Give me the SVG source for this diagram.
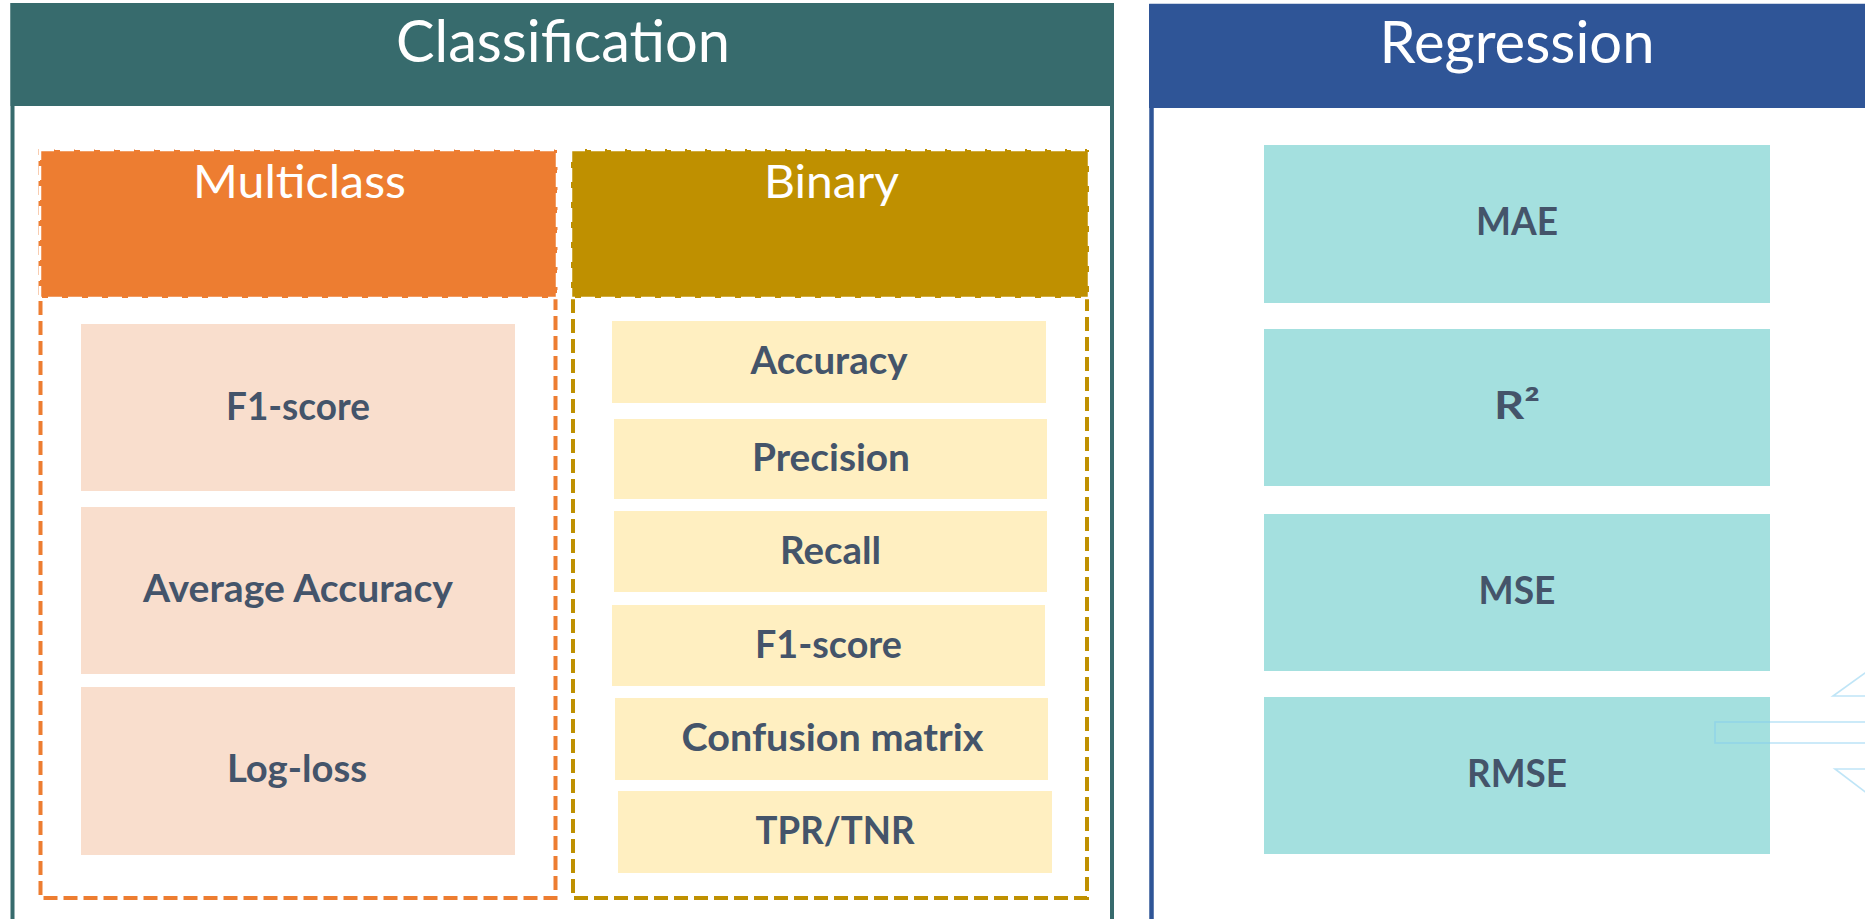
<svg xmlns="http://www.w3.org/2000/svg" width="1865" height="919" viewBox="0 0 1865 919">
<style>
.title{font-family:Lato,"Open Sans","Liberation Sans",sans-serif;fill:#FFFFFF;text-anchor:middle}
.lbl{font-family:Lato,"Open Sans","Liberation Sans",sans-serif;font-weight:bold;font-size:38px;fill:#44546A;text-anchor:middle}
.mbox{fill:#F9DECD}
.bbox{fill:#FFEFC1}
.rbox{fill:#A4E0DF}
.hdrline{stroke:#FFFFFF;stroke-width:2.5;stroke-dasharray:14 6}
.dash{fill:none;stroke-width:4;stroke-dasharray:14 6}
.arrow{fill:none;stroke:#7FCBF0;stroke-opacity:0.5;stroke-width:1.6}
</style>
<rect x="0" y="0" width="1865" height="919" fill="#FFFFFF"/>
<g id="classification">
  <rect x="12.5" y="5" width="1099.5" height="930" fill="#FFFFFF" stroke="#376B6D" stroke-width="4"/>
  <rect x="10.5" y="3" width="1103.5" height="103" fill="#376B6D"/>
  <text class="title" x="563" y="62" font-size="58" textLength="334" lengthAdjust="spacingAndGlyphs">Classification</text>
</g>
<g id="multiclass">
  <rect class="dash" x="40.5" y="151" width="515" height="747" stroke="#ED7D31"/>
  <rect x="40" y="150" width="517" height="148" fill="#ED7D31" class="hdrline"/>
  <text class="title" x="299.5" y="198" font-size="46" textLength="213" lengthAdjust="spacingAndGlyphs">Multiclass</text>
</g>
<g id="binary">
  <rect class="dash" x="573" y="151" width="514" height="747" stroke="#BF9000"/>
  <rect x="571" y="150" width="518" height="148" fill="#BF9000" class="hdrline"/>
  <text class="title" x="831.5" y="198" font-size="46" textLength="135" lengthAdjust="spacingAndGlyphs">Binary</text>
</g>
<g id="regression">
  <rect x="1151.5" y="6" width="760" height="930" fill="#FFFFFF" stroke="#2F5597" stroke-width="4.5"/>
  <rect x="1149" y="4" width="730" height="104" fill="#2F5597"/>
  <text class="title" x="1517" y="63" font-size="58" textLength="275" lengthAdjust="spacingAndGlyphs">Regression</text>
</g>
<g id="m-f1">
  <rect class="mbox" x="81" y="324" width="434" height="167"/>
  <text class="lbl" x="298" y="420" textLength="144" lengthAdjust="spacingAndGlyphs">F1-score</text>
</g>
<g id="m-avgacc">
  <rect class="mbox" x="81" y="507" width="434" height="167"/>
  <text class="lbl" x="298" y="602" textLength="310" lengthAdjust="spacingAndGlyphs">Average Accuracy</text>
</g>
<g id="m-logloss">
  <rect class="mbox" x="81" y="687" width="434" height="168"/>
  <text class="lbl" x="297" y="782" textLength="140" lengthAdjust="spacingAndGlyphs">Log-loss</text>
</g>
<g id="b-accuracy">
  <rect class="bbox" x="612" y="321" width="434" height="82"/>
  <text class="lbl" x="829" y="374" textLength="157" lengthAdjust="spacingAndGlyphs">Accuracy</text>
</g>
<g id="b-precision">
  <rect class="bbox" x="614" y="419" width="433" height="80"/>
  <text class="lbl" x="831" y="470.5" textLength="158" lengthAdjust="spacingAndGlyphs">Precision</text>
</g>
<g id="b-recall">
  <rect class="bbox" x="614" y="511" width="433" height="81"/>
  <text class="lbl" x="830.5" y="563.5" textLength="101" lengthAdjust="spacingAndGlyphs">Recall</text>
</g>
<g id="b-f1">
  <rect class="bbox" x="612" y="605" width="433" height="81"/>
  <text class="lbl" x="828.5" y="657.5" textLength="147" lengthAdjust="spacingAndGlyphs">F1-score</text>
</g>
<g id="b-confusion">
  <rect class="bbox" x="615" y="698" width="433" height="82"/>
  <text class="lbl" x="832.5" y="751" textLength="302" lengthAdjust="spacingAndGlyphs">Confusion matrix</text>
</g>
<g id="b-tprtnr">
  <rect class="bbox" x="618" y="791" width="434" height="82"/>
  <text class="lbl" x="835" y="844" textLength="159" lengthAdjust="spacingAndGlyphs">TPR/TNR</text>
</g>
<g id="r-mae">
  <rect class="rbox" x="1264" y="145" width="506" height="158"/>
  <text class="lbl" x="1517" y="235" textLength="82" lengthAdjust="spacingAndGlyphs">MAE</text>
</g>
<g id="r-r2">
  <rect class="rbox" x="1264" y="329" width="506" height="157"/>
  <text class="lbl" x="1517" y="419" textLength="46" lengthAdjust="spacingAndGlyphs">R²</text>
</g>
<g id="r-mse">
  <rect class="rbox" x="1264" y="514" width="506" height="157"/>
  <text class="lbl" x="1517" y="603.5" textLength="77" lengthAdjust="spacingAndGlyphs">MSE</text>
</g>
<g id="r-rmse">
  <rect class="rbox" x="1264" y="697" width="506" height="157"/>
  <text class="lbl" x="1517" y="787" textLength="100" lengthAdjust="spacingAndGlyphs">RMSE</text>
</g>
<g id="connectors">
  <polyline class="arrow" points="1870,669.5 1833,696 1870,696"/>
  <rect class="arrow" x="1715" y="722" width="160" height="21"/>
  <polyline class="arrow" points="1870,769 1835,769 1870,795.5"/>
</g>
</svg>
